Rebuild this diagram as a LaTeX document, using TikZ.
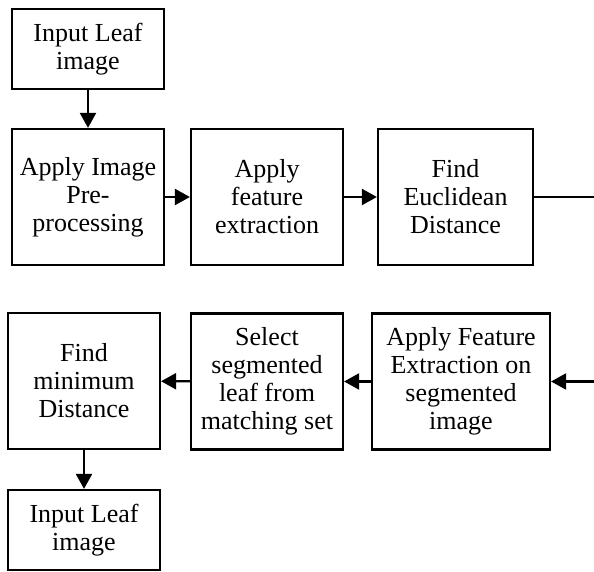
\documentclass[tikz,border=0pt]{standalone}
\usepackage{fontspec}
\setmainfont{Liberation Serif}
\usetikzlibrary{arrows.meta}

\tikzset{
  stage/.style={draw, line width=1.1pt, align=center, inner sep=2pt,
    minimum width=76pt, minimum height=68pt,
    font=\fontsize{13}{14}\selectfont},
  link/.style={line width=1.1pt, -{Triangle[length=7.5pt,width=8pt]}}
}

\begin{document}
\begin{tikzpicture}[x=0.5pt, y=-0.5pt]
        \useasboundingbox (0,0) rectangle (594,572);
        % first row, left to right
        \node[stage, minimum height=40pt] (leafin) at (88,49) {Input Leaf\\image};
        \node[stage] (prep) at (88,197) {Apply Image\\Pre-\\processing};
        \node[stage] (featx) at (267,197) {Apply\\feature\\extraction};
        \node[stage, minimum width=77.5pt] (eucl) at (455.5,197) {Find\\Euclidean\\Distance};
        % second row, right to left
        \node[stage, minimum width=89pt] (segfeat) at (461,381.5) {Apply Feature\\Extraction on\\segmented\\image};
        \node[stage] (select) at (267,381.5) {Select\\segmented\\leaf from\\matching set};
        \node[stage] (mindist) at (84,381) {Find\\minimum\\Distance};
        \node[stage, minimum height=40pt] (leafout) at (84,530) {Input Leaf\\image};
        \coordinate (wrapout) at (594,197);
        \coordinate (wrapin) at (594,381.5);

        \draw[link] (leafin) -- (prep);
        \draw[link] (prep) -- (featx);
        \draw[link] (featx) -- (eucl);
        \draw[line width=1.1pt] (eucl.east) -- (wrapout);
        \draw[link] (wrapin) -- (segfeat.east);
        \draw[link] (segfeat) -- (select);
        \draw[link] (select) -- (mindist);
        \draw[link] (mindist) -- (leafout);
        \end{tikzpicture}
\end{document}
